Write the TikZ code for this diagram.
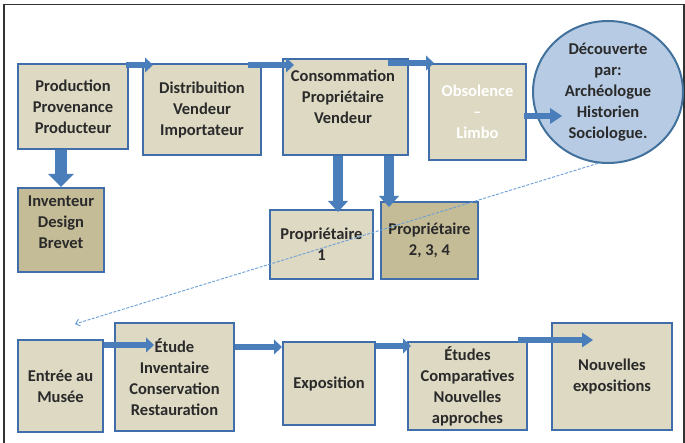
\documentclass[tikz,border=0pt]{standalone}
\usepackage{fontspec}
\setmainfont{Carlito}
\usetikzlibrary{arrows.meta,calc,shapes.geometric}
\definecolor{boxfill}{HTML}{DDD9C3}
\definecolor{boxdark}{HTML}{C4BC96}
\definecolor{boxline}{HTML}{3F6EAA}
\definecolor{arrowblue}{HTML}{4A7EBB}
\definecolor{circfill}{HTML}{B7CCE4}
\definecolor{circline}{HTML}{41719C}
\definecolor{txtgray}{HTML}{2A2A2A}
\definecolor{dashblue}{HTML}{6A9FD8}
\begin{document}
\begin{tikzpicture}[x=1pt,y=-1pt,
  lbl/.style={inner sep=0pt, align=center, text=txtgray, font=\fontsize{16.5}{21}\selectfont\bfseries},
  box/.style={lbl, draw=boxline, line width=2pt, fill=boxfill},
  darkbox/.style={box, fill=boxdark},
  hArrow/.style={draw=arrowblue, line width=6pt, -{Triangle[length=8pt,width=15pt,line width=0pt]}},
  bigArrow/.style={draw=arrowblue, line width=12pt, -{Triangle[length=13pt,width=26pt,line width=0pt]}},
  vArrow/.style={draw=arrowblue, line width=10pt, -{Triangle[length=11pt,width=20pt,line width=0pt]}},
  dashline/.style={draw=dashblue, line width=0.9pt, dash pattern=on 3pt off 1.5pt, -{Straight Barb[length=4pt,width=7pt]}},
  frame/.style={draw=black!80, line width=1.5pt}
]
\useasboundingbox (0,0) rectangle (685,443);
\fill[white] (0,0) rectangle (685,443);
\draw[frame] (4,443) -- (4,4.5) -- (684,4.5) -- (684,443);

% top row
\node[box, minimum width=110pt, minimum height=85pt] (prod) at (73,106.5) {Production\\Provenance\\Producteur};
\node[box, minimum width=118pt, minimum height=91pt] (dist) at (202,109.5) {Distribuition\\Vendeur\\Importateur};
\node[box, minimum width=125pt, minimum height=96pt] (cons) at (345.5,107) {};
\node[lbl] (consT) at (343,97) {Consommation\\Propriétaire\\Vendeur};
\node[box, minimum width=97pt, minimum height=96pt, text=white] (obs) at (477.5,112) {Obsolence\\–\\Limbo};
\node[lbl, ellipse, draw=circline, line width=2pt, fill=circfill, minimum width=150pt, minimum height=142pt] (circ) at (608,92) {Découverte\\par:\\Archéologue\\Historien\\Sociologue.};

\node[darkbox, minimum width=86pt, minimum height=84pt] (inv) at (61,230) {};
\node[lbl] (invT) at (61,222) {Inventeur\\Design\\Brevet};
\node[box, minimum width=103pt, minimum height=69pt] (p1) at (321.5,244.5) {Propriétaire\\1};
\node[darkbox, minimum width=97pt, minimum height=77pt] (p234) at (429.5,240.5) {Propriétaire\\2, 3, 4};

% bottom row
\node[box, minimum width=85pt, minimum height=92pt] (ent) at (60.5,386) {Entrée au\\Musée};
\node[box, minimum width=119pt, minimum height=108pt] (etu) at (174.5,377) {Étude\\Inventaire\\Conservation\\Restauration};
\node[box, minimum width=92pt, minimum height=83pt] (expo) at (329,383.5) {Exposition};
\node[box, minimum width=119pt, minimum height=88pt] (etc) at (467.5,386) {Études\\Comparatives\\Nouvelles\\approches};
\node[box, minimum width=120pt, minimum height=107pt] (nouv) at (612,376.5) {Nouvelles\\expositions};

% block arrows
\draw[hArrow] ($(prod.north east)+(-3,2)$) -- ($(dist.north west)+(11,2)$);
\draw[hArrow] ($(dist.north east)+(-14,2)$) -- ($(cons.north west)+(12,7)$);
\draw[hArrow] ($(cons.north east)+(-21,5)$) -- ($(obs.north west)+(6,0)$);
\draw[draw=arrowblue, line width=6pt, -{Triangle[length=12pt,width=16pt,line width=0pt]}] ($(obs.east)+(-3,4)$) -- ($(circ.center)+(-46,24)$);
\draw[bigArrow] ($(prod.south west)+(44,0)$) -- ($(inv.north west)+(44,0)$);
\draw[vArrow] ($(cons.south west)+(56,0)$) -- ($(p1.north west)+(69,3)$);
\draw[vArrow] ($(cons.south west)+(107,0)$) -- ($(p234.north west)+(9,6)$);

\draw[hArrow] ($(ent.north east)+(0,6)$) -- ($(etu.north west)+(40,23)$);
\draw[hArrow] ($(etu.north east)+(0,25)$) -- ($(expo.north west)+(0,6)$);
\draw[hArrow] ($(expo.north east)+(0,5)$) -- ($(etc.north west)+(4,5)$);
\draw[draw=arrowblue, line width=6pt, -{Triangle[length=11pt,width=15pt,line width=0pt]}] ($(etc.north east)+(-10,-1)$) -- ($(nouv.north west)+(42,18)$);

% dashed link
\coordinate (mus) at (75,324);
\draw[dashline] (circ.262) -- (mus);
\end{tikzpicture}
\end{document}
